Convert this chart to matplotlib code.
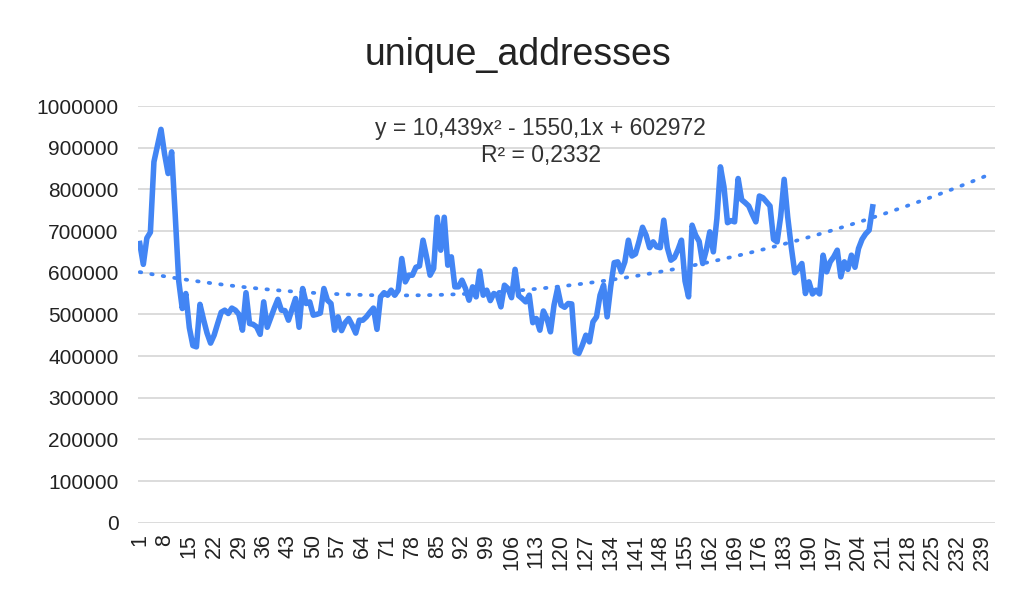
import numpy as np
import matplotlib
matplotlib.use("Agg")
import matplotlib.pyplot as plt

# === Données ===
unique_addresses = [
    670000, 620000, 683000, 697000, 866000, 905000, 944000, 885000, 838000, 890000,
    740000, 580000, 514000, 550000, 468000, 425000, 422000, 524000, 488000, 455000,
    431000, 450000, 478000, 505000, 510000, 502000, 515000, 510000, 500000, 462000,
    552000, 478000, 476000, 470000, 452000, 530000, 469000, 492000, 515000, 536000,
    510000, 509000, 486000, 512000, 538000, 469000, 562000, 526000, 530000, 498000,
    500000, 503000, 562000, 534000, 526000, 462000, 494000, 461000, 480000, 490000,
    474000, 455000, 486000, 486000, 494000, 505000, 515000, 464000, 542000, 552000,
    546000, 558000, 546000, 558000, 634000, 578000, 594000, 594000, 613000, 616000,
    678000, 638000, 594000, 610000, 733000, 654000, 733000, 618000, 638000, 566000,
    566000, 582000, 562000, 534000, 566000, 542000, 604000, 546000, 558000, 533000,
    550000, 546000, 518000, 570000, 562000, 540000, 608000, 545000, 538000, 530000,
    546000, 480000, 490000, 462000, 508000, 490000, 458000, 522000, 562000, 522000,
    517000, 526000, 525000, 410000, 406000, 426000, 450000, 434000, 482000, 494000,
    546000, 570000, 494000, 566000, 624000, 626000, 602000, 626000, 678000, 640000,
    645000, 675000, 709000, 690000, 660000, 674000, 662000, 660000, 726000, 660000,
    630000, 636000, 655000, 678000, 580000, 542000, 714000, 690000, 675000, 622000,
    654000, 698000, 650000, 730000, 854000, 806000, 720000, 725000, 722000, 826000,
    775000, 768000, 760000, 740000, 722000, 784000, 780000, 770000, 760000, 680000,
    674000, 734000, 824000, 734000, 662000, 600000, 610000, 622000, 550000, 578000,
    549000, 558000, 549000, 642000, 602000, 626000, 638000, 654000, 590000, 626000,
    608000, 642000, 613000, 658000, 680000, 693000, 702000, 758000,
]
n_categories = 242
trend_coef = [10.439, -1550.1, 602972]
equation_text = "y = 10,439x² - 1550,1x + 602972"
r2_text = "R² = 0,2332"

plt.rcParams["font.family"] = ["Liberation Sans", "DejaVu Sans"]

x = np.arange(1, len(unique_addresses) + 1)
x_trend = np.arange(1, n_categories + 1)
y_trend = np.polyval(trend_coef, x_trend)

fig = plt.figure(figsize=(10.11, 5.9), dpi=100)
ax = fig.add_axes([0.1365, 0.1141, 0.8475, 0.7062])

blue = "#4285F4"
ax.plot(x_trend, y_trend, color=blue, lw=2.7, linestyle=(0, (0.4, 2.7)),
        dash_capstyle="round", zorder=2)
ax.plot(x, unique_addresses, color=blue, lw=4.0, solid_joinstyle="round", zorder=3)

ax.set_xlim(0.5, n_categories + 0.5)
ax.set_ylim(0, 1000000)
ax.set_yticks(np.arange(0, 1000001, 100000))
ax.set_yticklabels([str(v) for v in range(0, 1000001, 100000)])
ax.set_xticks(np.arange(1, n_categories + 1, 7))
ax.set_xticklabels([str(v) for v in range(1, n_categories + 1, 7)], rotation=90)

ax.grid(axis="y", color="#d9d9d9", lw=1.3)
ax.set_axisbelow(True)
for s in ax.spines.values():
    s.set_visible(False)
ax.tick_params(axis="y", length=0, labelsize=15, colors="#222222", pad=14)
ax.tick_params(axis="x", length=0, labelsize=15.5, colors="#222222", pad=8)

fig.text(0.512, 0.907, "unique_addresses", ha="center", va="center", fontsize=27, color="#222222")
ax.text(0.470, 0.947, equation_text, transform=ax.transAxes, ha="center", va="center",
        fontsize=16.5, color="#333333")
ax.text(0.470, 0.882, r2_text, transform=ax.transAxes, ha="center", va="center",
        fontsize=16.5, color="#333333")

fig.savefig("out.png", dpi=100)
